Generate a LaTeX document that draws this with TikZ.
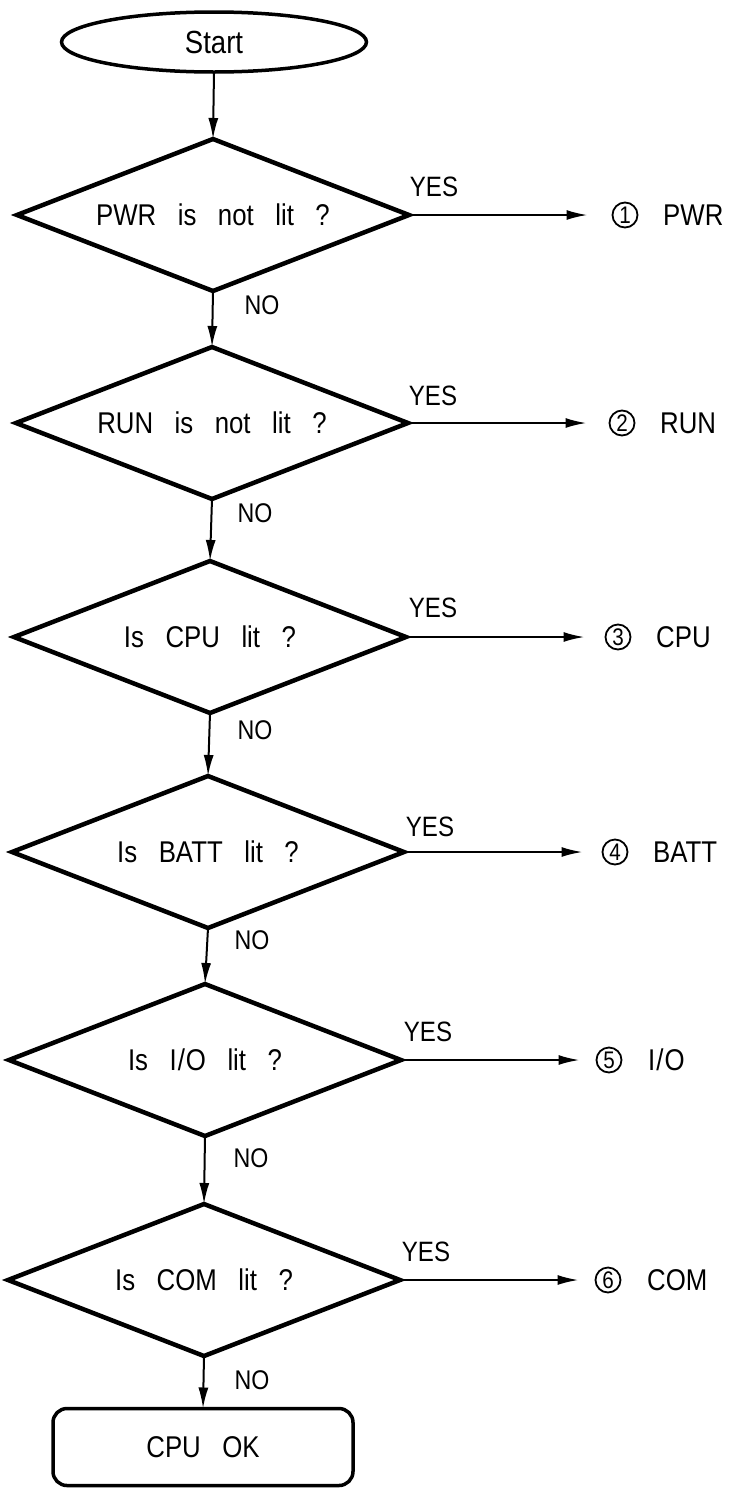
\documentclass[tikz,border=0pt]{standalone}
\usepackage{fontspec}
\setmainfont{Liberation Sans}[FakeStretch=0.86, WordSpace=3.0]
\usetikzlibrary{shapes.geometric, arrows.meta}
\begin{document}
\begin{tikzpicture}[x=1pt,y=-1pt,
  dec/.style={diamond, draw, aspect=2.58, line width=4.5pt, minimum width=392pt, minimum height=152pt,
    inner sep=0pt, outer sep=0pt, font=\fontsize{30}{36}\selectfont},
  term/.style={ellipse, draw, line width=3.5pt, minimum width=305pt, minimum height=60pt,
    inner sep=0pt, outer sep=0pt, font=\fontsize{32}{36}\selectfont},
  endbox/.style={rectangle, draw, rounded corners=14pt, line width=3.5pt, minimum width=300pt,
    minimum height=77pt, inner sep=0pt, outer sep=0pt, font=\fontsize{30}{36}\selectfont},
  yeslab/.style={inner sep=0pt, font=\fontsize{28}{32}\selectfont},
  nolab/.style={inner sep=0pt, font=\fontsize{27}{32}\selectfont},
  numc/.style={circle, draw, line width=1.8pt, minimum size=25pt, inner sep=0pt, outer sep=0pt,
    font=\fontsize{24}{24}\selectfont},
  res/.style={anchor=west, inner sep=0pt, font=\fontsize{30}{36}\selectfont},
  arr/.style={-{Latex[length=21pt,width=10pt]}, line width=2pt}
]
\useasboundingbox (0,0) rectangle (739,1494);
\fill[white] (0,0) rectangle (739,1494);

\node[term] (start) at (214,42) {Start};

\node[dec] (d1) at (213,215) {PWR is not lit ?};
\node[dec] (d2) at (212,423) {RUN is not lit ?};
\node[dec] (d3) at (210,637) {Is CPU lit ?};
\node[dec] (d4) at (208,852) {Is BATT lit ?};
\node[dec] (d5) at (205,1060) {Is I\kern1pt/\kern1pt O lit ?};
\node[dec] (d6) at (204,1280) {Is COM lit ?};

\node[endbox] (ok) at (203,1447) {CPU OK};

\node[numc] (c1) at (625,215) {1};
\node[numc] (c2) at (622,423) {2};
\node[numc] (c3) at (618,637) {3};
\node[numc] (c4) at (615,852) {4};
\node[numc] (c5) at (609,1060) {5};
\node[numc] (c6) at (608,1280) {6};

\node[res] (t1) at (663,215) {PWR};
\node[res] (t2) at (660,423) {RUN};
\node[res] (t3) at (656,637) {CPU};
\node[res] (t4) at (653,852) {BATT};
\node[res] (t5) at (648,1060) {I\kern1pt/\kern1pt O};
\node[res] (t6) at (647,1280) {COM};

\node[yeslab] (y1) at (434,187) {YES};
\node[yeslab] (y2) at (433,396) {YES};
\node[yeslab] (y3) at (433,608) {YES};
\node[yeslab] (y4) at (430,827) {YES};
\node[yeslab] (y5) at (428,1032) {YES};
\node[yeslab] (y6) at (426,1252) {YES};

\node[nolab] (n1) at (262,305) {NO};
\node[nolab] (n2) at (255,513) {NO};
\node[nolab] (n3) at (255,730) {NO};
\node[nolab] (n4) at (252,940) {NO};
\node[nolab] (n5) at (251,1158) {NO};
\node[nolab] (n6) at (252,1380) {NO};

\draw[arr] (start.south) -- (d1.north);
\draw[arr] (d1.south) -- (d2.north);
\draw[arr] (d2.south) -- (d3.north);
\draw[arr] (d3.south) -- (d4.north);
\draw[arr] (d4.south) -- (d5.north);
\draw[arr] (d5.south) -- (d6.north);
\draw[arr] (d6.south) -- (ok.north);

\draw[arr, shorten >=25pt] (d1.east) -- (c1.west);
\draw[arr, shorten >=23pt] (d2.east) -- (c2.west);
\draw[arr, shorten >=21pt] (d3.east) -- (c3.west);
\draw[arr, shorten >=20pt] (d4.east) -- (c4.west);
\draw[arr, shorten >=17pt] (d5.east) -- (c5.west);
\draw[arr, shorten >=17pt] (d6.east) -- (c6.west);
\end{tikzpicture}
\end{document}
